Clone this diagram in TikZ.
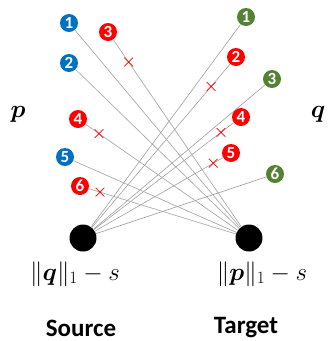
\documentclass[tikz,border=0pt]{standalone}
\usepackage{amsmath,amssymb,bm}
\usepackage{fontspec}
\setmainfont{Carlito}
\usetikzlibrary{shapes,positioning,calc}

\definecolor{pblue}{RGB}{0,112,192}
\definecolor{qgreen}{RGB}{84,130,53}
\definecolor{cutred}{RGB}{255,0,0}

\tikzset{
  num/.style={circle, fill=#1, text=white, inner sep=0pt, minimum size=18pt,
    font=\fontsize{17}{17}\selectfont\bfseries},
  dot/.style={circle, fill=black, inner sep=0pt, minimum size=27pt},
  link/.style={draw=black!35, line width=0.65pt},
  cut/.style={cross out, draw=cutred, line width=0.7pt, minimum size=8pt, inner sep=0pt},
  big/.style={font=\fontsize{27}{30}\selectfont}
}

\begin{document}
\begin{tikzpicture}[x=1pt,y=-1pt]
  \useasboundingbox (0,0) rectangle (328,341);

  % Source and target
  \node[dot] (src) at (83,238) {};
  \node[dot] (tgt) at (249,238) {};

  % p side
  \node[num=pblue] (p1) at (69,23) {1};
  \node[num=pblue] (p2) at (69,63) {2};
  \node[num=cutred] (p3) at (108,32) {3};
  \node[num=cutred] (p4) at (78,119) {4};
  \node[num=pblue] (p5) at (65,157) {5};
  \node[num=cutred] (p6) at (80,186) {6};

  % q side
  \node[num=qgreen] (q1) at (246,17) {1};
  \node[num=cutred] (q2) at (236,57) {2};
  \node[num=qgreen] (q3) at (272,79) {3};
  \node[num=cutred] (q4) at (241,117) {4};
  \node[num=cutred] (q5) at (231,153) {5};
  \node[num=qgreen] (q6) at (275,174) {6};

  % Links
  \foreach \i in {1,...,6} {
    \draw[link] (p\i) -- (tgt);
    \draw[link] (q\i) -- (src);
  }

  % Removed mass
  \node[cut] (xp3) at ($(p3)!0.146!(tgt)$) {};
  \node[cut] (xp4) at ($(p4)!0.123!(tgt)$) {};
  \node[cut] (xp6) at ($(p6)!0.118!(tgt)$) {};
  \node[cut] (xq2) at ($(q2)!0.163!(src)$) {};
  \node[cut] (xq4) at ($(q4)!0.127!(src)$) {};
  \node[cut] (xq5) at ($(q5)!0.12!(src)$) {};

  % Labels
  \node[font=\fontsize{31}{34}\selectfont] (plab) at (18,114) {$\bm{p}$};
  \node[font=\fontsize{31}{34}\selectfont] (qlab) at (318,114) {$\bm{q}$};
  \node[big] (srcval) at (75,274) {$\|\bm{q}\|_1-s$};
  \node[big] (tgtval) at (262,274) {$\|\bm{p}\|_1-s$};
  \node[font=\fontsize{25}{28}\selectfont\bfseries] (srcname) at (81,328) {Source};
  \node[font=\fontsize{25}{28}\selectfont\bfseries] (tgtname) at (246,328) {Target};
\end{tikzpicture}
\end{document}
